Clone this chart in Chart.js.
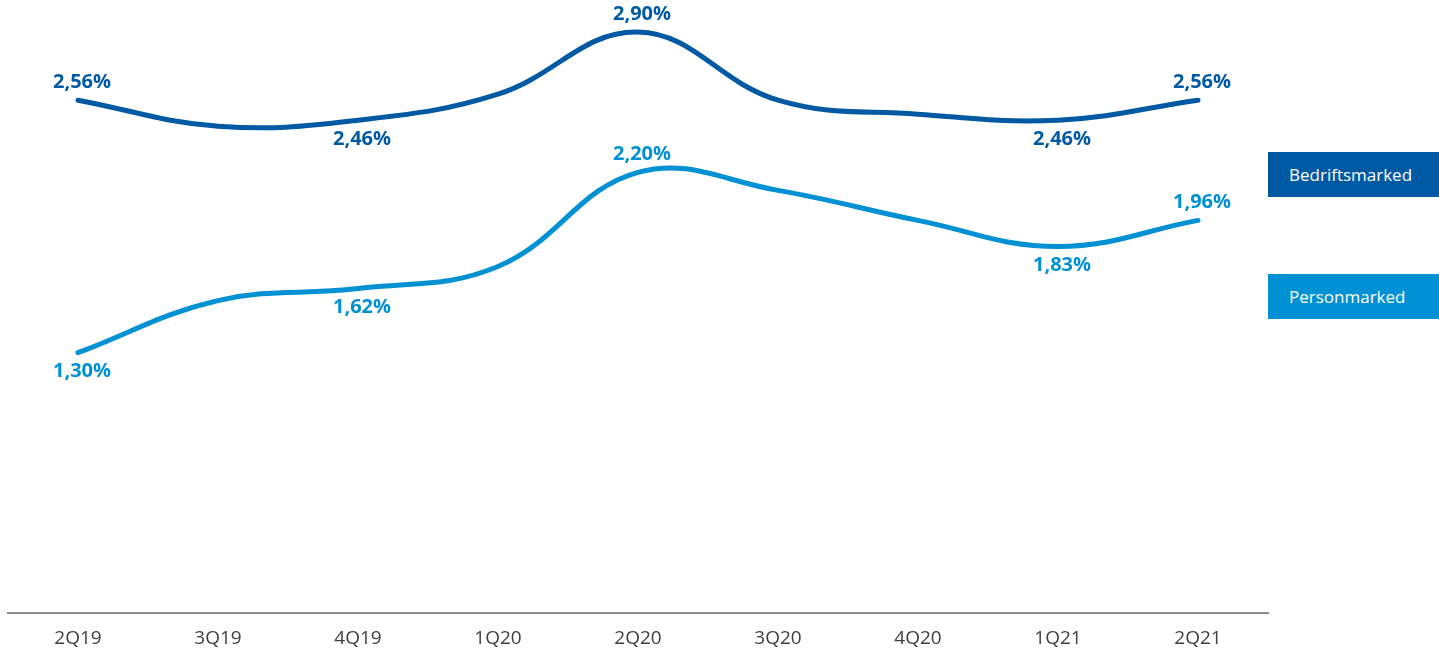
<!DOCTYPE html>
<html>
<head>
<meta charset="utf-8">
<script src="https://cdn.jsdelivr.net/npm/chart.js@4/dist/chart.umd.min.js"></script>
<style>
  html, body { margin: 0; padding: 0; background: #fff; }
  #wrap { position: relative; width: 1439px; height: 652px; }
  canvas { position: absolute; left: 0; top: 0; }
  .leg { position: absolute; left: 1268px; width: 171px; height: 45px; color: #fff;
         font-family: "Open Sans", "Noto Sans", sans-serif; font-size: 17px;
         display: flex; align-items: center; padding-left: 21px; box-sizing: border-box; }
</style>
</head>
<body>
<div id="wrap">
  <canvas id="c" width="1439" height="652"></canvas>
  <div class="leg" id="leg1" style="top:152px; background:#005AA3;">Bedriftsmarked</div>
  <div class="leg" id="leg2" style="top:274px; background:#0091D4;">Personmarked</div>
</div>
<script>
const categories = ['2Q19','3Q19','4Q19','1Q20','2Q20','3Q20','4Q20','1Q21','2Q21'];
const bedriftsValues = [2.56, 2.43, 2.46, 2.59, 2.90, 2.56, 2.49, 2.46, 2.56];
const personValues   = [1.30, 1.56, 1.62, 1.73, 2.20, 2.11, 1.96, 1.83, 1.96];
// which points carry a label, and where (above / below)
const bedriftsLabels = {0:'above', 2:'below', 4:'above', 7:'below', 8:'above'};
const personLabels   = {0:'below', 2:'below', 4:'above', 7:'below', 8:'above'};
const seriesNames = ['Bedriftsmarked', 'Personmarked'];
const colors = ['#005AA3', '#0091D4'];

const fmt = v => v.toFixed(2).replace('.', ',') + '%';

const labelPlugin = {
  id: 'pointLabels',
  afterDatasetsDraw(chart) {
    const ctx = chart.ctx;
    const maps = [bedriftsLabels, personLabels];
    chart.data.datasets.forEach((ds, di) => {
      const meta = chart.getDatasetMeta(di);
      const m = maps[di];
      ctx.save();
      ctx.font = 'bold 20px "Open Sans", "Noto Sans", sans-serif';
      ctx.fillStyle = colors[di];
      ctx.textAlign = 'center';
      ctx.textBaseline = 'middle';
      Object.keys(m).forEach(k => {
        const i = +k;
        const pt = meta.data[i];
        const dy = m[k] === 'above' ? -18 : 19;
        ctx.fillText(fmt(ds.data[i]), pt.x + 4, pt.y + dy);
      });
      ctx.restore();
    });
  }
};

new Chart(document.getElementById('c'), {
  type: 'line',
  data: {
    labels: categories,
    datasets: [
      { label: seriesNames[0], data: bedriftsValues, borderColor: colors[0], borderWidth: 5,
        pointRadius: 0, tension: 0.4, fill: false, borderCapStyle: 'round' },
      { label: seriesNames[1], data: personValues, borderColor: colors[1], borderWidth: 5,
        pointRadius: 0, tension: 0.4, fill: false, borderCapStyle: 'round' }
    ]
  },
  options: {
    responsive: false,
    animation: false,
    layout: { padding: { left: 8, right: 171, top: 12, bottom: -12 } },
    plugins: { legend: { display: false }, tooltip: { enabled: false } },
    scales: {
      x: {
        offset: true,
        grid: { display: false, drawTicks: false },
        border: { display: true, color: '#8C8C8C', width: 2 },
        ticks: { color: '#404040', padding: 14, maxRotation: 0,
                 font: { size: 19, family: '"Open Sans", "Noto Sans", sans-serif' } }
      },
      y: { display: false, min: 0, max: 3.0 }
    }
  },
  plugins: [labelPlugin]
});
</script>
</body>
</html>
